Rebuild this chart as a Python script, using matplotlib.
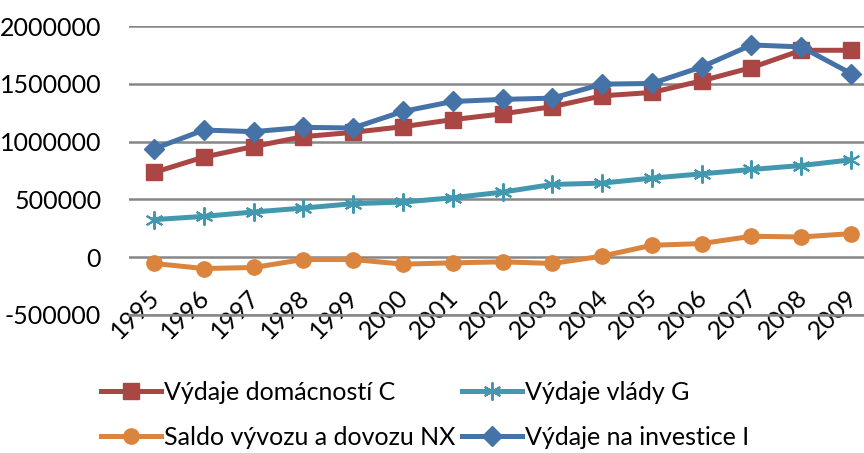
import matplotlib.pyplot as plt
from matplotlib.transforms import ScaledTranslation

years = ['1995', '1996', '1997', '1998', '1999', '2000', '2001', '2002',
         '2003', '2004', '2005', '2006', '2007', '2008', '2009']
vydaje_c = [733000, 866000, 957000, 1043000, 1080000, 1129000, 1190000, 1240000,
            1302000, 1396000, 1425000, 1526000, 1640000, 1790000, 1790000]
vydaje_g = [325000, 353000, 391000, 425000, 463000, 477000, 514000, 563000,
            629000, 641000, 684000, 721000, 759000, 793000, 842000]
saldo_nx = [-54000, -98000, -89000, -20000, -20000, -60000, -49000, -40000,
            -54000, 9000, 103000, 118000, 181000, 175000, 204000]
vydaje_i = [937000, 1100000, 1086000, 1123000, 1118000, 1261000, 1347000, 1365000,
            1376000, 1497000, 1503000, 1646000, 1836000, 1819000, 1589000]

plt.rcParams['font.family'] = ['Lato', 'DejaVu Sans']

fig = plt.figure(figsize=(8.64, 4.53), dpi=100)
ax = fig.add_axes([129/864, 1-315/453, 747/864, 289/453])

x = range(len(years))
l_c, = ax.plot(x, vydaje_c, color='#AA4643', lw=3.6, marker='s', ms=11, label='Výdaje domácností C')
l_g, = ax.plot(x, vydaje_g, color='#4198AF', lw=3.6, marker=(6, 2, 0), ms=13, mew=1.5,
               label='Výdaje vlády G')
l_nx, = ax.plot(x, saldo_nx, color='#DB843D', lw=3.6, marker='o', ms=11, label='Saldo vývozu a dovozu NX')
l_i, = ax.plot(x, vydaje_i, color='#4572A7', lw=3.6, marker='D', ms=10, label='Výdaje na investice I')

ax.set_xlim(-0.5, len(years) - 0.5)
ax.set_ylim(-500000, 2000000)
ax.set_yticks(range(-500000, 2000001, 500000))
ax.set_yticklabels([str(v) for v in range(-500000, 2000001, 500000)])
ax.set_xticks(list(x))
ax.set_xticklabels(years, rotation=45, ha='right', va='center', rotation_mode='anchor')
ax.tick_params(length=0, labelsize=18)
ax.tick_params(axis='y', pad=20)
ax.tick_params(axis='x', pad=0)
off = ScaledTranslation(0.02, 0.21, fig.dpi_scale_trans)
for lab in ax.get_xticklabels():
    lab.set_transform(lab.get_transform() + off)

ax.grid(axis='y', color='#868686', lw=1.8)
ax.set_axisbelow(True)
for s in ['left', 'right', 'top']:
    ax.spines[s].set_visible(False)
ax.spines['bottom'].set_color('#868686')
ax.spines['bottom'].set_linewidth(1.8)

fig.legend(handles=[l_c, l_nx, l_g, l_i], ncol=2, loc='center',
           bbox_to_anchor=(425/864, 0.084), frameon=False, fontsize=18,
           handlelength=2.4, handletextpad=0.1, columnspacing=0.3, labelspacing=0.9)

fig.savefig('out.png')
